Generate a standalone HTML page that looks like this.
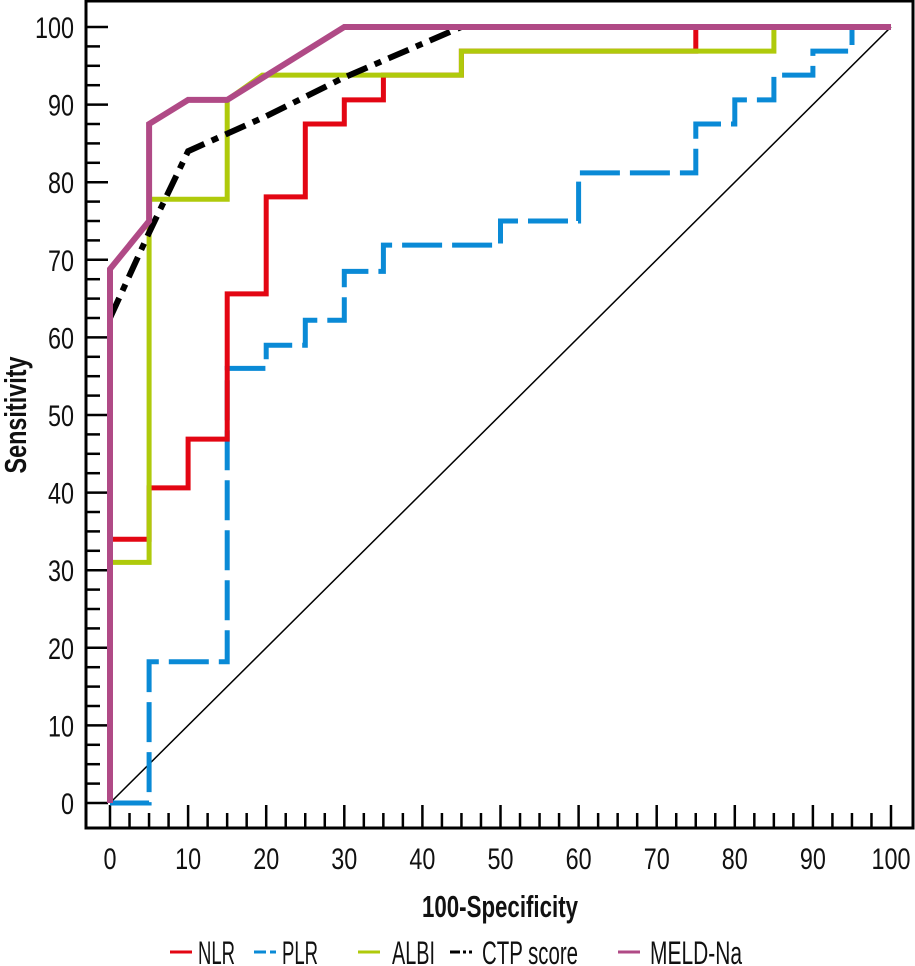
<!DOCTYPE html>
<html><head><meta charset="utf-8"><style>
html,body{margin:0;padding:0;background:#fff;}
svg{display:block;font-family:"Liberation Sans Narrow","Liberation Sans",sans-serif;}
</style></head><body>
<svg id="chart" width="915" height="966" viewBox="0 0 915 966" xmlns="http://www.w3.org/2000/svg"></svg>
<script>
const xTicks = [0,10,20,30,40,50,60,70,80,90,100];
const yTicks = [0,10,20,30,40,50,60,70,80,90,100];
const nlrX = [0,0,5,5,10,10,15,15,20,20,25,25,30,30,35,35,45,45,75,75,100];
const nlrY = [0,34,34,40.6,40.6,46.9,46.9,65.6,65.6,78.1,78.1,87.5,87.5,90.6,90.6,93.8,93.8,96.9,96.9,100,100];
const plrX = [0,5,5,15,15,20,20,25,25,30,30,35,35,50,50,60,60,75,75,80,80,85,85,90,90,95,95,100];
const plrY = [0,0,18.2,18.2,56,56,59,59,62.2,62.2,68.5,68.5,71.9,71.9,75,75,81.2,81.2,87.5,87.5,90.6,90.6,93.8,93.8,96.9,96.9,100,100];
const albiX = [0,0,5,5,15,15,19.5,45,45,85,85,100];
const albiY = [0,31,31,77.8,77.8,90.6,93.8,93.8,96.9,96.9,100,100];
const ctpX = [0,5,10,20,30,45,100];
const ctpY = [62.5,73.5,84,88.5,93.5,100,100];
const meldX = [0,0,5,5,10,15,30,100];
const meldY = [0,68.8,75,87.5,90.6,90.6,100,100];

const NS="http://www.w3.org/2000/svg";
const svg=document.getElementById('chart');
const X0=110,X1=891,Y0=803,Y1=27;
const sx=v=>X0+(X1-X0)*v/100;
const sy=v=>Y0-(Y0-Y1)*v/100;
function mk(tag,attrs,parent){const e=document.createElementNS(NS,tag);for(const k in attrs)e.setAttribute(k,attrs[k]);(parent||svg).appendChild(e);return e;}

const frame=mk('path',{d:'M86,1 H913 V828 H86 Z',fill:'none',stroke:'#000','stroke-width':3});



for(let i=0;i<=40;i++){const v=i*2.5;const major=i%4===0;
 const t=mk('line',{x1:86,x2:major?108:100,y1:sy(v),y2:sy(v),stroke:'#000','stroke-width':2.5});
 
 }
yTicks.forEach(v=>{const s=String(v);const t=mk('text',{x:74,y:sy(v)+11,'text-anchor':'end','font-size':30,fill:'#111',textLength:13*s.length,lengthAdjust:'spacingAndGlyphs'});t.textContent=s;
 
 });
for(let i=0;i<=40;i++){const v=i*2.5;const major=i%4===0;
 const t=mk('line',{x1:sx(v),x2:sx(v),y1:828,y2:major?805:813,stroke:'#000','stroke-width':2.5});
 
 }
xTicks.forEach(v=>{const s=String(v);const t=mk('text',{x:sx(v),y:869,'text-anchor':'middle','font-size':30,fill:'#111',textLength:13*s.length,lengthAdjust:'spacingAndGlyphs'});t.textContent=s;
 
 });

const dg=mk('line',{x1:sx(0),y1:sy(0),x2:sx(100),y2:sy(100),stroke:'#000','stroke-width':1.5});



function series(xs,ys,color,dash,name,w){
 const d=xs.map((x,i)=>(i?'L':'M')+sx(x).toFixed(1)+','+sy(ys[i]).toFixed(1)).join(' ');
 const p=mk('path',{d:d,fill:'none',stroke:color,'stroke-width':w||5,'stroke-linejoin':'miter'});
 if(dash)p.setAttribute('stroke-dasharray',dash);
 
 
}
series(plrX,plrY,'#0a8ad6','40 10','plr-line',5);
series(nlrX,nlrY,'#e30613',null,'nlr-line',5);
series(albiX,albiY,'#afca0b',null,'albi-line',5);
series(ctpX,ctpY,'#000','22 8 7 8','ctp-score-line',6);
series(meldX,meldY,'#b04a86',null,'meld-na-line',6);

const xt=mk('text',{x:500,y:917,'text-anchor':'middle','font-size':31,'font-weight':'bold',fill:'#111',textLength:156,lengthAdjust:'spacingAndGlyphs'});xt.textContent='100-Specificity';


const yt=mk('text',{x:0,y:0,'text-anchor':'middle','font-size':31,'font-weight':'bold',fill:'#111',transform:'translate(26,415) rotate(-90)',textLength:117,lengthAdjust:'spacingAndGlyphs'});yt.textContent='Sensitivity';



const legendItems=[['NLR','#e30613',null,170,198,37],['PLR','#0a8ad6','12 4',254,282,36],['ALBI','#afca0b',null,358,392,43],['CTP score','#000','10 3 3 3',450,482,96],['MELD-Na','#b04a86',null,618,650,92]];
legendItems.forEach(it=>{
 const g=mk('g',{});
 
 
 const l=mk('line',{x1:it[3],x2:it[3]+22,y1:952,y2:952,stroke:it[1],'stroke-width':3},g);
 if(it[2])l.setAttribute('stroke-dasharray',it[2]);
 const t=mk('text',{x:it[4],y:964,'font-size':32,fill:'#111',textLength:it[5],lengthAdjust:'spacingAndGlyphs'},g);t.textContent=it[0];
});
</script>
</body></html>
